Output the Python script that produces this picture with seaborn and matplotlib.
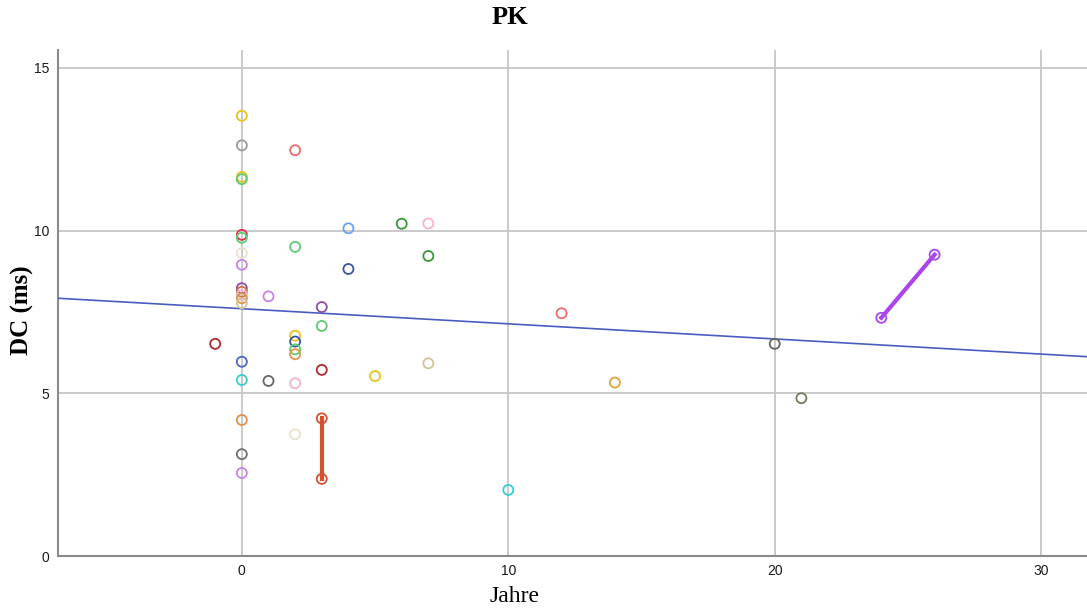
import numpy as np
import pandas as pd
import matplotlib
matplotlib.use("Agg")
import matplotlib.pyplot as plt
import seaborn as sns

# Follow-up years and DC (ms) per measurement
jahre = [0, 0, 0, 0, 0, 0, 0, 0, 0, 0, 0, 0, 0, 0, 0, 0, 0, 0,
         -1, 1, 1,
         2, 2, 2, 2, 2, 2, 2, 2,
         3, 3, 3, 3, 3,
         4, 4, 5, 6, 7, 7, 7, 10, 12, 14, 20, 21, 24, 26]
dc = [13.53, 12.62, 11.65, 11.58, 9.87, 9.78, 9.31, 8.95, 8.23, 8.12, 8.02,
      7.92, 7.77, 5.97, 5.41, 4.18, 3.13, 2.55,
      6.52, 7.98, 5.38,
      12.47, 9.50, 6.77, 6.59, 6.35, 6.20, 5.31, 3.74,
      7.65, 7.07, 5.72, 4.23, 2.37,
      10.07, 8.82, 5.53, 10.21, 10.22, 9.22, 5.92, 2.03, 7.46, 5.33,
      6.52, 4.85, 7.32, 9.26]
patient = ["gelb", "grau", "gelb", "gruen", "rot", "gruen", "creme", "violett",
           "lila", "braun", "rosa", "orange", "khaki", "blau", "tuerkis",
           "orange2", "grau2", "violett",
           "dunkelrot", "violett", "dunkelgrau",
           "hellrot", "gruen", "gelb", "marine", "gruen", "orange", "rosa", "creme",
           "lila", "gruen", "dunkelrot", "P_A", "P_A",
           "hellblau", "marine", "gelb", "dunkelgruen", "rosa", "dunkelgruen",
           "khaki", "tuerkis", "hellrot", "orange3",
           "dunkelgrau", "oliv", "P_B", "P_B"]

farben = {
    "gelb": "#e6c41e", "grau": "#9c9c9c", "gruen": "#5fcb72", "rot": "#e0304a",
    "creme": "#e9e2cb", "violett": "#c684e6", "lila": "#8c4ea6",
    "braun": "#c8764e", "rosa": "#f7b3cb", "orange": "#e0964a",
    "khaki": "#cdc698", "blau": "#4a68c4", "tuerkis": "#3ccccc",
    "orange2": "#dc9250", "grau2": "#707070", "dunkelrot": "#b42830",
    "dunkelgrau": "#666666", "hellrot": "#f06a6a", "marine": "#3a54a4",
    "hellblau": "#6aa2ee", "dunkelgruen": "#3a973a", "orange3": "#eaa040",
    "oliv": "#6f7d58", "P_A": "#d4502e", "P_B": "#a944ee",
}

# Linear trend over all measurements
trend_achse = 7.60
trend_steigung = -0.0465

df = pd.DataFrame({"Jahre": jahre, "DC": dc, "Patient": patient})

fig = plt.figure(figsize=(10.87, 6.12), dpi=100)
ax = fig.add_axes([58 / 1087, 1 - 556 / 612, 1 - 58 / 1087, (556 - 50) / 612])

ax.set_xlim(-6.9, 31.72)
ax.set_ylim(0, 15.55)
ax.set_xticks([0, 10, 20, 30])
ax.set_yticks([0, 5, 10, 15])
ax.grid(True, color="#c6c6c6", linewidth=1.3)
ax.set_axisbelow(True)
for s in ["top", "right"]:
    ax.spines[s].set_visible(False)
for s in ["left", "bottom"]:
    ax.spines[s].set_color("#8a8a8a")
    ax.spines[s].set_linewidth(1.5)
ax.tick_params(length=0, pad=6)
for lab in ax.get_yticklabels():
    lab.set_family(["Liberation Sans", "DejaVu Sans"])
    lab.set_fontsize(10)
    lab.set_color("#1a1a1a")
for lab in ax.get_xticklabels():
    lab.set_family(["Liberation Sans Narrow", "Liberation Sans", "DejaVu Sans"])
    lab.set_fontsize(10)
    lab.set_color("#1a1a1a")

# Repeated measurements of one patient connected
paare = df[df["Patient"].isin(["P_A", "P_B"])]
sns.lineplot(data=paare, x="Jahre", y="DC", hue="Patient", palette=farben,
             units="Patient", estimator=None, linewidth=3, legend=False,
             ax=ax, sort=False)

sns.scatterplot(data=df, x="Jahre", y="DC", hue="Patient", palette=farben,
                s=52, legend=False, ax=ax, zorder=4)
punkte = ax.collections[-1]
punkte.set_edgecolors(punkte.get_facecolors())
punkte.set_facecolors("none")
punkte.set_linewidth(1.3)

ax.axline((0, trend_achse), slope=trend_steigung, color="#4a5cbf",
          linewidth=1.2, zorder=3)

ax.set_xlabel("Jahre", fontsize=17, family=["Liberation Serif", "DejaVu Serif"],
              va="center")
ax.set_ylabel("DC (ms)", fontsize=18, fontweight="bold",
              family=["Liberation Serif", "DejaVu Serif"], va="center")
ax.xaxis.set_label_coords((515 - 58) / 1029, (556 - 597) / 506)
ax.yaxis.set_label_coords((22 - 58) / 1029, (556 - 310) / 506)

fig.text(510 / 1087, 1 - 18 / 612, "PK", ha="center", va="center",
         fontsize=19, fontweight="bold",
         family=["Liberation Serif", "DejaVu Serif"])

fig.savefig("out.png", dpi=100)
